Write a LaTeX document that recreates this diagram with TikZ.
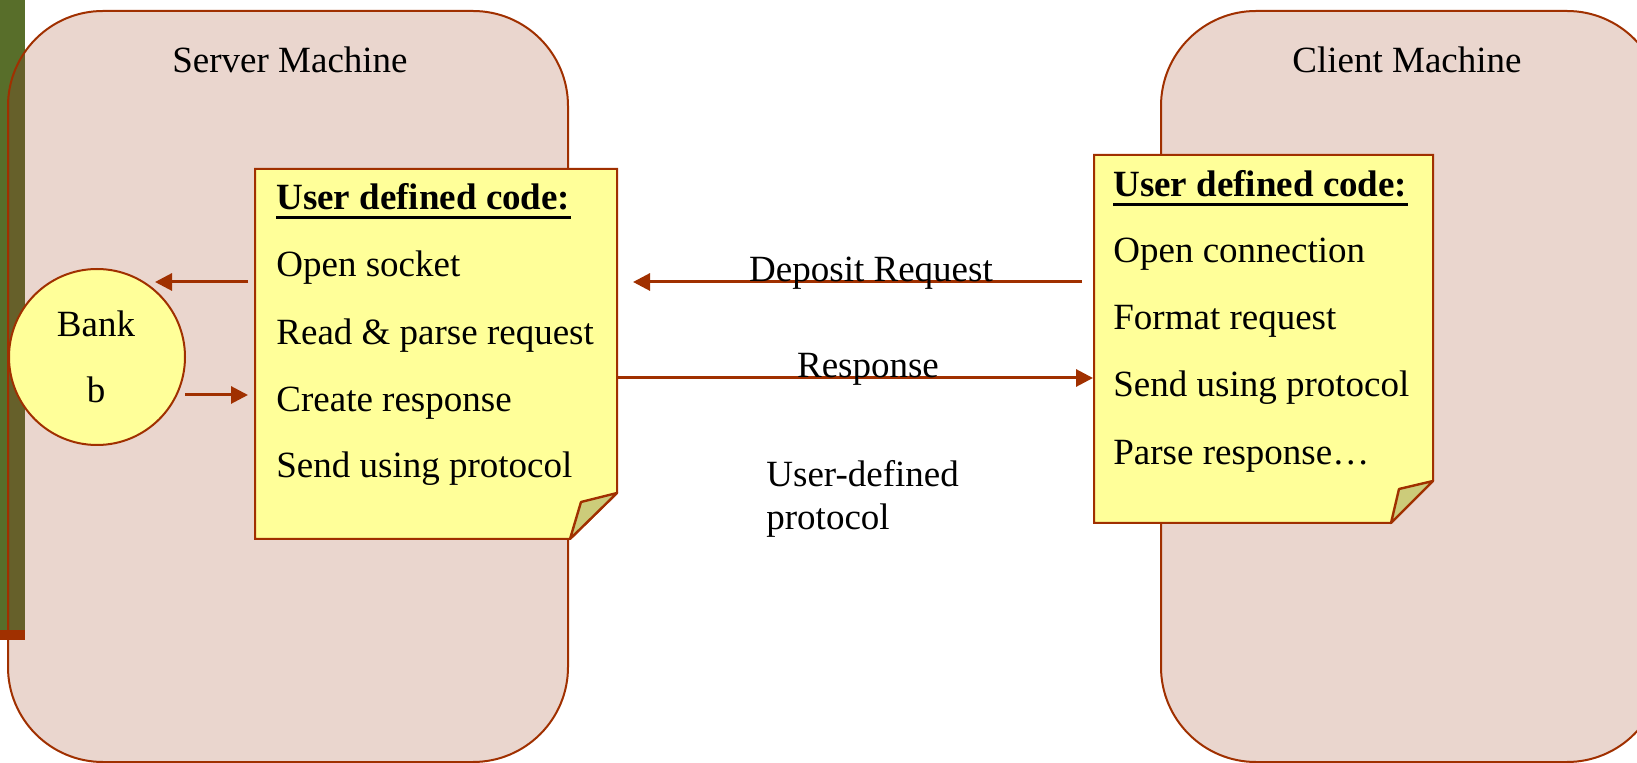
\documentclass[tikz,border=0pt]{standalone}
\usepackage{fontspec}
\setmainfont{Liberation Serif}
\usetikzlibrary{arrows.meta}
\definecolor{boxfill}{RGB}{234,214,206}
\definecolor{brd}{RGB}{160,48,0}
\definecolor{notefill}{RGB}{255,255,153}
\definecolor{foldfill}{RGB}{204,204,122}
\definecolor{barcol}{RGB}{88,110,42}
\definecolor{barover}{RGB}{102,96,42}
\newcommand{\bigtxt}{\fontsize{18.5}{22}\selectfont}
\tikzset{
  machine/.style={draw=brd, line width=1pt, rounded corners=47.5pt},
  notebody/.style={fill=notefill, draw=brd, line width=1pt, line join=miter},
  foldpart/.style={fill=foldfill, draw=brd, line width=1.2pt, line join=round},
  txt/.style={inner sep=0pt, anchor=base west, font=\bigtxt},
  ctxt/.style={inner sep=0pt, anchor=base, font=\bigtxt},
  arr/.style={draw=brd, line width=1.5pt, -{Triangle[length=8.5pt,width=8.5pt]}},
  holder/.style={inner sep=0pt, draw=none},
  uline/.style={draw=black, line width=1.5pt}
}
\begin{document}
\begin{tikzpicture}[x=0.5pt,y=-0.5pt]
\useasboundingbox (0,0) rectangle (1637,763);
\clip (0,0) rectangle (1637,763);
% left bar
\fill[barcol] (0,0) rectangle (25,630);
\fill[brd] (0,630) rectangle (25,640);
% server machine
\fill[boxfill, rounded corners=47.5pt] (8,11) rectangle (568,762);
\begin{scope}
  \clip[rounded corners=47.5pt] (8,11) rectangle (568,762);
  \fill[barover] (0,0) rectangle (25,630);
  \fill[brd] (0,630) rectangle (25,640);
\end{scope}
\draw[machine] (8,11) rectangle (568,762);
% client machine
\draw[machine, fill=boxfill] (1161,11) rectangle (1662,762);

\node[ctxt] (stitle) at (290,73) {Server Machine};
\node[ctxt] (ctitle) at (1407,73) {Client Machine};

% server note
\node[holder, minimum width=181pt, minimum height=185pt] (snote) at (436,354) {};
\draw[notebody] (255,169) -- (617,169) -- (617,493) -- (570,539) -- (255,539) -- cycle;
\draw[foldpart] (570,539) -- (581,502) -- (617,493) -- cycle;
\node[txt] (s0) at (276,210) {\textbf{User defined code:}};
\draw[uline] ([yshift=-3.6pt]s0.base west) -- ([yshift=-3.6pt]s0.base east);
\node[txt] (s1) at (276,277) {Open socket};
\node[txt] (s2) at (276,345) {Read \& parse request};
\node[txt] (s3) at (276,412) {Create response};
\node[txt] (s4) at (276,478) {Send using protocol};

% client note
\node[holder, minimum width=170pt, minimum height=184pt] (cnote) at (1263,339) {};
\draw[notebody] (1094,155) -- (1433,155) -- (1433,481) -- (1391,523) -- (1094,523) -- cycle;
\draw[foldpart] (1391,523) -- (1399,489) -- (1433,481) -- cycle;
\node[txt] (c0) at (1113,197) {\textbf{User defined code:}};
\draw[uline] ([yshift=-3.6pt]c0.base west) -- ([yshift=-3.6pt]c0.base east);
\node[txt] (c1) at (1113,263) {Open connection};
\node[txt] (c2) at (1113,330) {Format request};
\node[txt] (c3) at (1113,397) {Send using protocol};
\node[txt] (c4) at (1113,465) {Parse response\ldots};

% bank
\node[circle, fill=notefill, draw=brd, line width=1pt, minimum size=88pt, inner sep=0pt] (bank) at (97,357) {};
\node[ctxt] (bank1) at (96,337) {Bank};
\node[ctxt] (bank2) at (96,403) {b};

% connector end points
\coordinate (a1s) at (248,282);
\coordinate (a1e) at (155,282);
\coordinate (a2s) at (185,395);
\coordinate (a2e) at (248,395);
\coordinate (drs) at (1082,282);
\coordinate (dre) at (633,282);
\coordinate (rss) at (617,378);
\coordinate (rse) at (1093,378);

\draw[arr] (a1s) -- (a1e);
\draw[arr] (a2s) -- (a2e);
\draw[arr] (drs) -- (dre);
\draw[arr] (rss) -- (rse);

\node[ctxt] (dlab) at (871,282) {Deposit Request};
\node[ctxt] (rlab) at (868,378) {Response};
\node[txt] (p1) at (766,487) {User-defined};
\node[txt] (p2) at (766,530) {protocol};
\end{tikzpicture}
\end{document}
